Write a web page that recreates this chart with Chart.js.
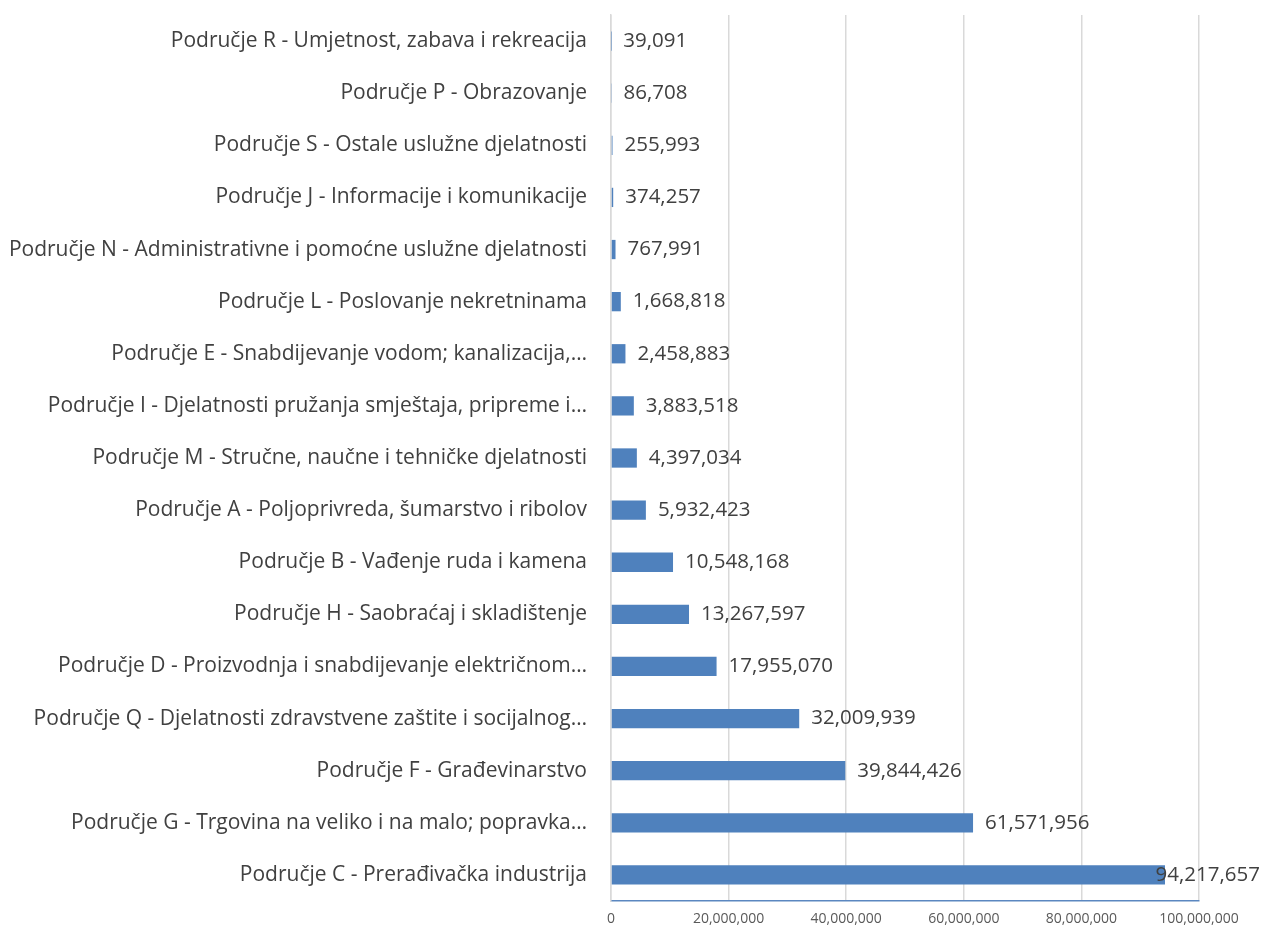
<!DOCTYPE html>
<html>
<head>
<meta charset="utf-8">
<script src="https://cdn.jsdelivr.net/npm/chart.js@4"></script>
<style>
  html, body { margin: 0; padding: 0; background: #fff; }
  #wrap { width: 1262px; height: 929px; }
</style>
</head>
<body>
<div id="wrap"><canvas id="myChart" width="1262" height="929"></canvas></div>
<script>
// podaci
const categories = [
  'Područje R - Umjetnost, zabava i rekreacija',
  'Područje P - Obrazovanje',
  'Područje S - Ostale uslužne djelatnosti',
  'Područje J - Informacije i komunikacije',
  'Područje N - Administrativne i pomoćne uslužne djelatnosti',
  'Područje L - Poslovanje nekretninama',
  'Područje E - Snabdijevanje vodom; kanalizacija,…',
  'Područje I - Djelatnosti pružanja smještaja, pripreme i…',
  'Područje M - Stručne, naučne i tehničke djelatnosti',
  'Područje A - Poljoprivreda, šumarstvo i ribolov',
  'Područje B - Vađenje ruda i kamena',
  'Područje H - Saobraćaj i skladištenje',
  'Područje D - Proizvodnja i snabdijevanje električnom…',
  'Područje Q - Djelatnosti zdravstvene zaštite i socijalnog…',
  'Područje F - Građevinarstvo',
  'Područje G - Trgovina na veliko i na malo; popravka…',
  'Područje C - Prerađivačka industrija'
];
const values = [
  39091, 86708, 255993, 374257, 767991, 1668818, 2458883, 3883518, 4397034,
  5932423, 10548168, 13267597, 17955070, 32009939, 39844426, 61571956, 94217657
];
const axisMin = 0;
const axisMax = 100000000;
const axisStep = 20000000;

const FONT = 'Open Sans';
const fmt = (v) => v.toLocaleString('en-US');

// labele na kraju bara
const valueLabels = {
  id: 'valueLabels',
  afterDatasetsDraw(chart) {
    const ctx = chart.ctx;
    const meta = chart.getDatasetMeta(0);
    ctx.save();
    ctx.font = '20.5px "' + FONT + '"';
    ctx.fillStyle = '#404040';
    ctx.textBaseline = 'middle';
    ctx.textAlign = 'left';
    meta.data.forEach((bar, i) => {
      const txt = fmt(values[i]);
      const w = ctx.measureText(txt).width;
      let x = bar.x + 12;
      if (x + w > chart.width - 2) x = chart.width - 2 - w;
      ctx.fillText(txt, x, bar.y);
    });
    ctx.restore();
  }
};

const ctx = document.getElementById('myChart');

new Chart(ctx, {
  type: 'bar',
  data: {
    labels: categories,
    datasets: [{
      data: values,
      backgroundColor: '#4f81bd',
      borderWidth: 0,
      categoryPercentage: 1,
      barPercentage: 0.37
    }]
  },
  options: {
    indexAxis: 'y',
    responsive: false,
    animation: false,
    layout: { padding: { top: 15, right: 63, bottom: 0, left: 0 } },
    plugins: {
      legend: { display: false },
      tooltip: { enabled: false }
    },
    scales: {
      x: {
        min: axisMin,
        max: axisMax,
        ticks: {
          stepSize: axisStep,
          color: '#595959',
          font: { family: FONT, size: 14 },
          padding: 10,
          callback: (v) => fmt(v)
        },
        grid: { color: '#d9d9d9', lineWidth: 1.5, drawTicks: false },
        border: { display: true, color: '#5b87c0', width: 1.5 },
        afterFit: (s) => {
          s.height = 28;
          s.paddingLeft = 0; s.paddingRight = 0;
        }
      },
      y: {
        ticks: {
          color: '#404040',
          font: { family: FONT, size: 21 },
          padding: 24,
          autoSkip: false
        },
        grid: { display: false, drawTicks: false },
        border: { display: true, color: '#d9d9d9', width: 1.5 },
        afterFit: (s) => {
          s.width = 611;
          s.paddingTop = 0; s.paddingBottom = 0;
        }
      }
    }
  },
  plugins: [valueLabels]
});
</script>
</body>
</html>
